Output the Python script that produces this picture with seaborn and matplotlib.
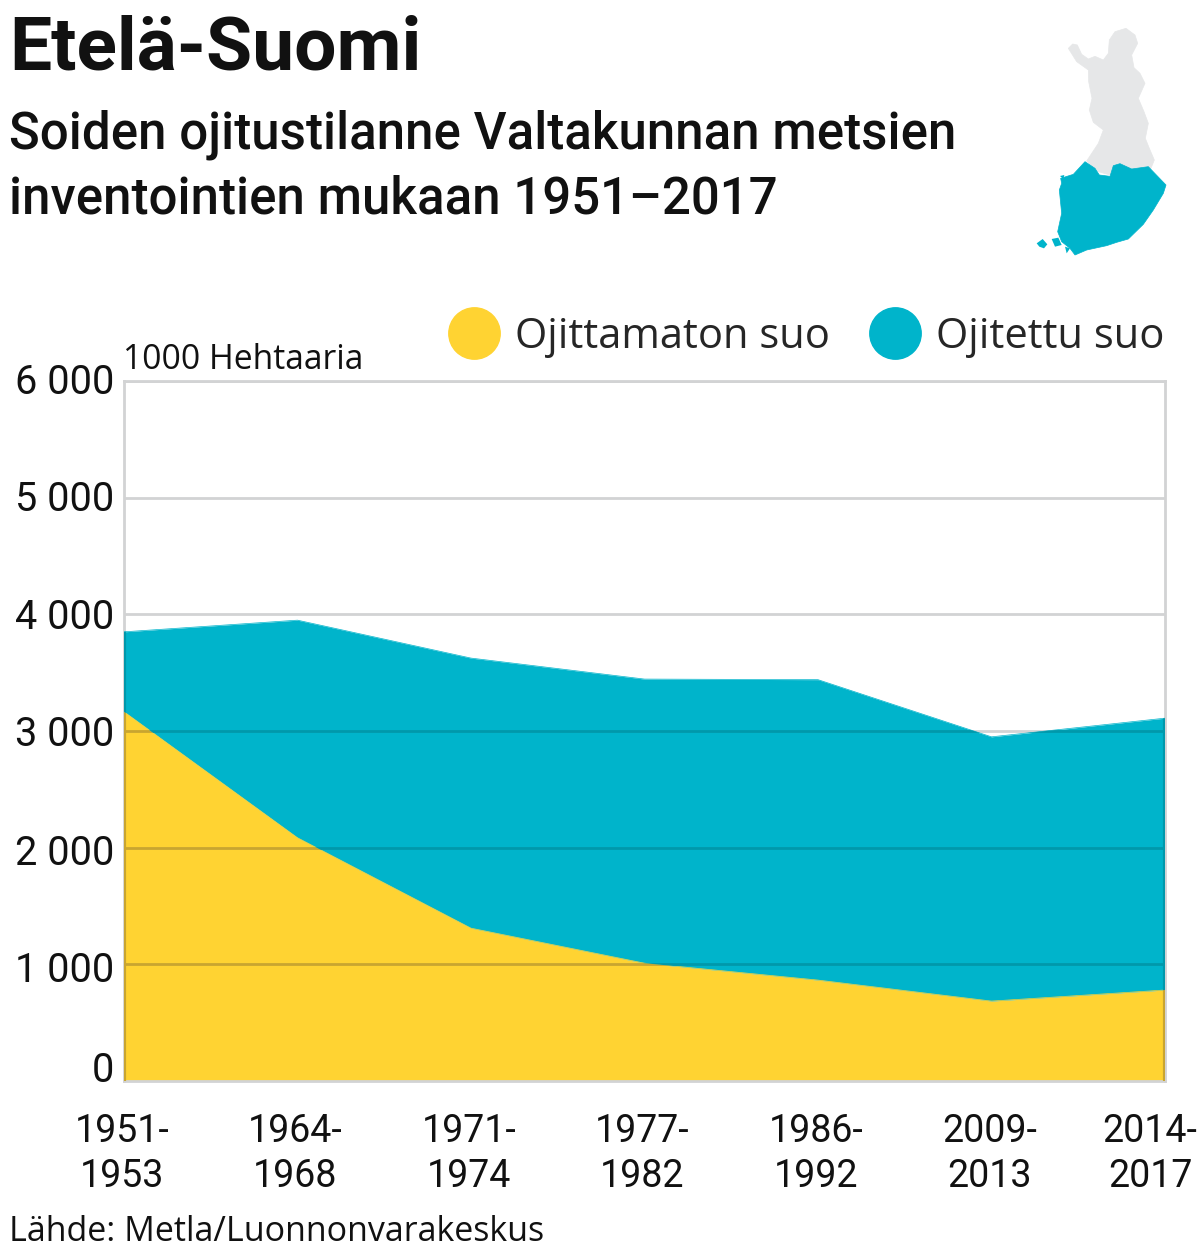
import matplotlib
matplotlib.use('Agg')
import matplotlib.pyplot as plt
from matplotlib.lines import Line2D
from matplotlib.patches import Polygon
from matplotlib.transforms import ScaledTranslation
import seaborn as sns
import numpy as np
import pandas as pd

periods = ['1951-\n1953', '1964-\n1968', '1971-\n1974', '1977-\n1982',
           '1986-\n1992', '2009-\n2013', '2014-\n2017']
ojittamaton = [3165, 2085, 1310, 1010, 865, 685, 780]
ojitettu = [685, 1865, 2315, 2435, 2575, 2265, 2330]
y_ticks = [0, 1000, 2000, 3000, 4000, 5000, 6000]
y_labels = ['0', '1 000', '2 000', '3 000', '4 000', '5 000', '6 000']

YELLOW = '#FFD332'
TEAL = '#00B4CB'
GRID = '#D2D3D4'
W, H = 1199, 1257

df = pd.DataFrame({'period': periods, 'Ojittamaton suo': ojittamaton, 'Ojitettu suo': ojitettu})
df['x'] = np.arange(len(df))
df['top'] = df['Ojittamaton suo'] + df['Ojitettu suo']

sns.set_theme(style='white')
plt.rcParams['font.family'] = ['Roboto', 'DejaVu Sans']

fig = plt.figure(figsize=(W / 100, H / 100), dpi=100)
ax = fig.add_axes([124 / W, 1 - 1081 / H, (1165 - 124) / W, 700 / H])

# stacked areas, grid stays under them
polys = ax.stackplot(df['x'], df['Ojittamaton suo'], df['Ojitettu suo'],
                     colors=[YELLOW, TEAL], linewidth=0, zorder=2)
sns.lineplot(data=df, x='x', y='Ojittamaton suo', color=YELLOW, lw=0.5, ax=ax, zorder=3)
sns.lineplot(data=df, x='x', y='top', color=TEAL, lw=0.5, ax=ax, zorder=3)

ax.set_xlim(0, len(df) - 1)
ax.set_ylim(0, 6000)
ax.set_xlabel('')
ax.set_ylabel('')
ax.set_yticks(y_ticks)
ax.set_yticklabels(y_labels, fontsize=28.5, color='#111111')
ax.set_xticks(df['x'])
ax.set_xticklabels(periods, fontsize=27, color='#111111', linespacing=1.27)
ax.tick_params(axis='both', length=0)
ax.tick_params(axis='y', pad=7)
ax.tick_params(axis='x', pad=23)
ax.grid(axis='y', color=GRID, lw=2, zorder=1)
ax.set_axisbelow(True)
for s in ax.spines.values():
    s.set_visible(True)
    s.set_color(GRID)
    s.set_linewidth(2)

# grid shows through the areas, a bit darker
for poly, c in zip(polys, ['#C9A530', '#0098AB']):
    for v in y_ticks[1:4]:
        ln = ax.axhline(v, color=c, lw=2, zorder=4)
        ln.set_clip_path(poly.get_paths()[0], poly.get_transform())
    for xv in [0, len(df) - 1]:
        ln = ax.axvline(xv, color=c, lw=3, zorder=4)
        ln.set_clip_path(poly.get_paths()[0], poly.get_transform())

# nudge labels like the original
xl = ax.get_xticklabels()
for i, lab in enumerate(xl):
    dx = -15 if i == len(xl) - 1 else -2
    lab.set_transform(lab.get_transform() + ScaledTranslation(dx / 100, 0, fig.dpi_scale_trans))
y_nudge = [15, -2, -2, 0, 1, 2, 2]
for lab, dy in zip(ax.get_yticklabels(), y_nudge):
    lab.set_transform(lab.get_transform() + ScaledTranslation(0, dy / 100, fig.dpi_scale_trans))


def ftext(px, py, s, **kw):
    fig.text(px / W, 1 - py / H, s, **kw)


ftext(9, 69, 'Etelä-Suomi', fontsize=54, fontweight='bold', color='#111111')
ftext(9, 149, 'Soiden ojitustilanne Valtakunnan metsien', fontsize=36.7, fontweight='medium', color='#111111')
ftext(9, 213, 'inventointien mukaan 1951–2017', fontsize=36.7, fontweight='medium', color='#111111')
ftext(123, 369, '1000 Hehtaaria', fontsize=24.2, family=['Open Sans', 'DejaVu Sans'], color='#111111')
ftext(9, 1241, 'Lähde: Metla/Luonnonvarakeskus', fontsize=24.5, family=['Open Sans', 'DejaVu Sans'], color='#111111')

handles = [Line2D([], [], ls='', marker='o', ms=37, color=YELLOW, label='Ojittamaton suo'),
           Line2D([], [], ls='', marker='o', ms=37, color=TEAL, label='Ojitettu suo')]
ax.legend(handles=handles, ncol=2, frameon=False, loc='lower right',
          bbox_to_anchor=(1.0096, 1.0186), borderaxespad=0, borderpad=0.25,
          prop={'family': ['Open Sans', 'DejaVu Sans'], 'size': 30},
          handletextpad=0.48, columnspacing=1.07, handlelength=1.0)

# small outline map of Finland (zoom crop pixels)
map_ax = fig.add_axes([1020 / W, 1 - 265 / H, 170 / W, 250 / H])
map_ax.set_xlim(0, 510)
map_ax.set_ylim(750, 0)
map_ax.axis('off')
north = [(145, 100), (158, 87), (172, 90), (185, 118), (205, 132), (225, 124), (250, 135), (265, 115),
         (268, 75), (285, 50), (318, 40), (345, 60), (353, 85), (335, 120), (342, 158), (360, 175),
         (375, 205), (355, 250), (372, 290), (385, 325), (376, 370), (388, 400), (403, 435), (392, 462),
         (335, 462), (280, 450), (270, 480), (235, 470), (200, 438), (235, 385), (250, 345), (220, 322),
         (208, 285), (216, 250), (206, 200), (205, 165), (170, 140)]
south = [(122, 490), (160, 478), (195, 440), (225, 460), (238, 480), (270, 484), (280, 452), (300, 446),
         (335, 462), (385, 455), (438, 510), (430, 535), (400, 585), (370, 628), (325, 672), (290, 682),
         (260, 692), (200, 705), (165, 720), (150, 700), (125, 680), (113, 650), (125, 595), (118, 525),
         (125, 505)]
islands = [[(50, 685), (68, 672), (82, 688), (72, 700), (58, 695)],
           [(95, 672), (115, 668), (125, 690), (105, 695)],
           [(120, 483), (133, 480), (130, 492)],
           [(135, 695), (150, 700), (140, 715)]]
map_ax.add_patch(Polygon(north, closed=True, fc='#E6E7E8', ec='#E6E7E8', lw=0.5))
map_ax.add_patch(Polygon(south, closed=True, fc=TEAL, ec=TEAL, lw=0.5))
for isl in islands:
    map_ax.add_patch(Polygon(isl, closed=True, fc=TEAL, ec='none'))

fig.savefig('out.png', dpi=100)
